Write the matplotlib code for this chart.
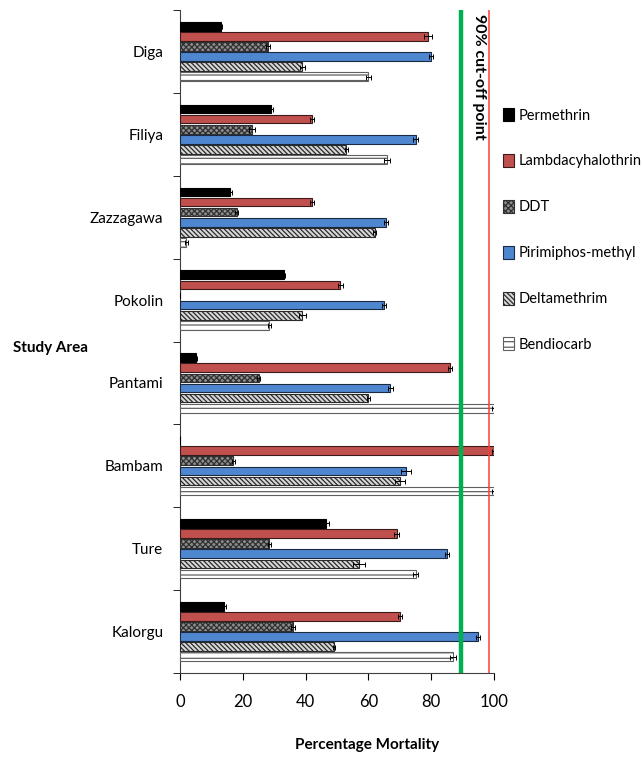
import numpy as np
import matplotlib.pyplot as plt

areas = ['Diga', 'Filiya', 'Zazzagawa', 'Pokolin', 'Pantami', 'Bambam', 'Ture', 'Kalorgu']
insecticides = ['Permethrin', 'Lambdacyhalothrin', 'DDT', 'Pirimiphos-methyl',
                'Deltamethrim', 'Bendiocarb']

permethrin = [13, 29, 16, 33, 5, 0, 46.5, 14]
lambdacy = [79, 42, 42, 51, 86, 100, 69, 70]
ddt = [28, 23, 18, 0, 25, 17, 28.5, 36]
pirimiphos = [80, 75, 65.5, 65, 67, 72, 85, 95]
deltameth = [39, 53, 62, 39, 60, 70, 57, 49]
bendiocarb = [60, 66, 2, 28.5, 100, 100, 75, 87]

err_perm = [0.5, 0.5, 0.5, 0.5, 0.3, 0, 0.8, 0.5]
err_lambda = [1.2, 0.6, 0.6, 0.8, 0.6, 0.5, 0.8, 0.6]
err_ddt = [0.6, 1.0, 0.5, 0, 0.6, 0.4, 0.6, 0.6]
err_pirim = [0.6, 0.8, 0.6, 0.6, 0.8, 1.5, 0.6, 0.6]
err_delta = [0.8, 0.4, 0.5, 1.0, 0.4, 1.5, 2.0, 0.4]
err_bendio = [0.8, 1.0, 0.5, 0.5, 0.5, 0.5, 0.8, 1.0]

cutoff = 89.5
ref_line = 98.5

plt.rcParams['font.family'] = ['Lato', 'DejaVu Sans']
plt.rcParams['hatch.linewidth'] = 0.9

series = [permethrin, lambdacy, ddt, pirimiphos, deltameth, bendiocarb]
errors = [err_perm, err_lambda, err_ddt, err_pirim, err_delta, err_bendio]
faces = ['black', '#C0504D', '#8E8E8E', '#4F86D0', '#d8d8d8', 'white']
edges = ['black', '#3a1a1a', '#303030', '#1a2a40', '#2a2a2a', '#606060']
hatches = [None, None, 'xxxxxx', None, '\\\\\\\\\\\\\\', '---']

fig = plt.figure(figsize=(6.42, 7.63), dpi=100)
ax = fig.add_axes([180/642, 1-673/763, 314/642, 663/763])

index = np.arange(len(areas))
bar_h = 0.105
step = 0.122
for j in range(len(series)):
    ax.barh(index + (j - 2.5)*step, series[j], bar_h, xerr=errors[j],
            color=faces[j], edgecolor=edges[j], hatch=hatches[j], linewidth=0.8,
            label=insecticides[j], zorder=3,
            error_kw=dict(ecolor='black', elinewidth=0.7, capsize=1.8, capthick=0.7))

ax.axvline(cutoff, color='#00B050', lw=3.2, zorder=4)
ax.axvline(ref_line, color='#FF3B3B', lw=1.1, zorder=4)
ax.text(95.2, -0.45, '90% cut-off point', rotation=270, ha='center', va='top',
        fontsize=11.5, fontweight='bold', zorder=5)

ax.set_xlim(0, 100)
ax.set_ylim(7.5, -0.5)
ax.set_xticks(range(0, 101, 20))
ax.set_yticks(index)
ax.set_yticklabels(areas, fontsize=11)
ax.set_yticks(np.arange(-0.5, 8, 1), minor=True)
ax.tick_params(axis='y', which='major', length=0, pad=12)
ax.tick_params(axis='y', which='minor', length=5, direction='out')
ax.tick_params(axis='x', labelsize=12, length=5, pad=10)
for s in ['top', 'right']:
    ax.spines[s].set_visible(False)
ax.spines['left'].set_color('#404040')
ax.spines['bottom'].set_color('#404040')

fig.text(13/642, 1-348/763, 'Study Area', fontsize=11, fontweight='bold',
         ha='left', va='center')
fig.text(367/642, 1-745/763, 'Percentage Mortality', fontsize=11,
         fontweight='bold', ha='center', va='center')

ax.legend(loc='upper left', bbox_to_anchor=(503/642, 1-108/763),
          bbox_transform=fig.transFigure, frameon=False, fontsize=10.5,
          labelspacing=2.15, handlelength=0.75, handleheight=1.0,
          handletextpad=0.3, borderpad=0, borderaxespad=0)

fig.savefig('out.png', dpi=100)
